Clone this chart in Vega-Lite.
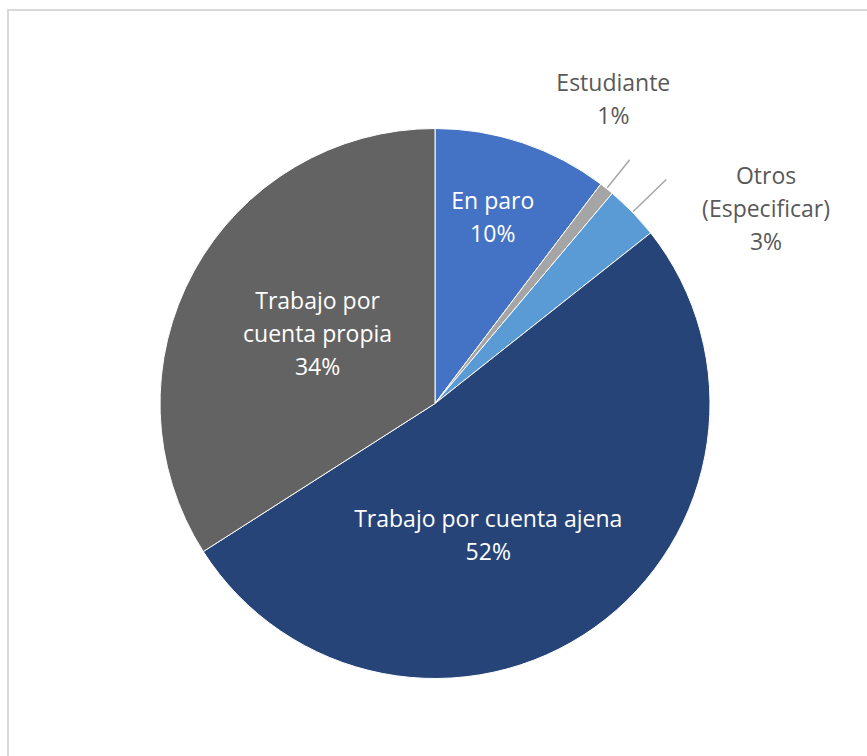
{
  "$schema": "https://vega.github.io/schema/vega-lite/v6.json",
  "width": 862,
  "height": 787,
  "autosize": "none",
  "padding": {"left": 8, "top": 10, "right": 0, "bottom": 0},
  "background": "white",
  "view": {"stroke": "#D9D9D9", "strokeWidth": 2},
  "data": {
    "values": [
      {"cat": "En paro", "value": 10.3, "order": 1, "label": "En paro\n10%"},
      {"cat": "Estudiante", "value": 0.85, "order": 2, "label": "Estudiante\n1%"},
      {"cat": "Otros (Especificar)", "value": 3.2, "order": 3, "label": "Otros\n(Especificar)\n3%"},
      {"cat": "Trabajo por cuenta ajena", "value": 51.6, "order": 4, "label": "Trabajo por cuenta ajena\n52%"},
      {"cat": "Trabajo por cuenta propia", "value": 34.05, "order": 5, "label": "Trabajo por\ncuenta propia\n34%"}
    ]
  },
  "encoding": {
    "theta": {"field": "value", "type": "quantitative", "stack": true},
    "order": {"field": "order", "type": "quantitative", "sort": "ascending"}
  },
  "layer": [
    {
      "mark": {"type": "arc", "outerRadius": 275, "xOffset": -4, "stroke": "white", "strokeWidth": 1},
      "encoding": {
        "color": {
          "field": "cat", "type": "nominal", "legend": null,
          "scale": {
            "domain": ["En paro", "Estudiante", "Otros (Especificar)", "Trabajo por cuenta ajena", "Trabajo por cuenta propia"],
            "range": ["#4472C4", "#A5A5A5", "#5B9BD5", "#264478", "#636363"]
          }
        }
      }
    },
    {
      "mark": {"type": "arc", "radius": 312, "radius2": 276, "xOffset": -4, "padAngle": 0.6, "fill": "#A6A6A6", "stroke": "#A6A6A6", "strokeWidth": 1.5},
      "encoding": {
        "opacity": {"condition": {"test": "datum.cat === 'Estudiante'", "value": 1}, "value": 0}
      }
    },
    {
      "mark": {"type": "arc", "radius": 322, "radius2": 276, "xOffset": -4, "padAngle": 0.6, "fill": "#A6A6A6", "stroke": "#A6A6A6", "strokeWidth": 1.5},
      "encoding": {
        "opacity": {"condition": {"test": "datum.cat === 'Otros (Especificar)'", "value": 1}, "value": 0}
      }
    },
    {
      "mark": {"type": "text", "radius": 210, "thetaOffset": -0.045, "xOffset": -4, "font": "Open Sans", "fontSize": 23, "lineBreak": "\n", "lineHeight": 33, "align": "center", "baseline": "middle", "color": "white"},
      "encoding": {"text": {"condition": {"test": "datum.cat === 'En paro'", "field": "label"}, "value": ""}}
    },
    {
      "mark": {"type": "text", "radius": 155, "thetaOffset": 0.21, "xOffset": -4, "font": "Open Sans", "fontSize": 23, "lineBreak": "\n", "lineHeight": 33, "align": "center", "baseline": "middle", "color": "white"},
      "encoding": {"text": {"condition": {"test": "datum.cat === 'Trabajo por cuenta propia'", "field": "label"}, "value": ""}}
    },
    {
      "mark": {"type": "text", "radius": 128, "thetaOffset": 0.19, "xOffset": -4, "font": "Open Sans", "fontSize": 23, "lineBreak": "\n", "lineHeight": 33, "align": "center", "baseline": "middle", "color": "white"},
      "encoding": {"text": {"condition": {"test": "datum.cat === 'Trabajo por cuenta ajena'", "field": "label"}, "value": ""}}
    },
    {
      "mark": {"type": "text", "radius": 366, "thetaOffset": -0.165, "xOffset": -4, "font": "Open Sans", "fontSize": 23, "lineBreak": "\n", "lineHeight": 33, "align": "center", "baseline": "middle", "color": "#595959"},
      "encoding": {"text": {"condition": {"test": "datum.cat === 'Estudiante'", "field": "label"}, "value": ""}}
    },
    {
      "mark": {"type": "text", "radius": 401, "thetaOffset": 0.17, "xOffset": -4, "font": "Open Sans", "fontSize": 23, "lineBreak": "\n", "lineHeight": 33, "align": "center", "baseline": "middle", "color": "#595959"},
      "encoding": {"text": {"condition": {"test": "datum.cat === 'Otros (Especificar)'", "field": "label"}, "value": ""}}
    }
  ]
}
